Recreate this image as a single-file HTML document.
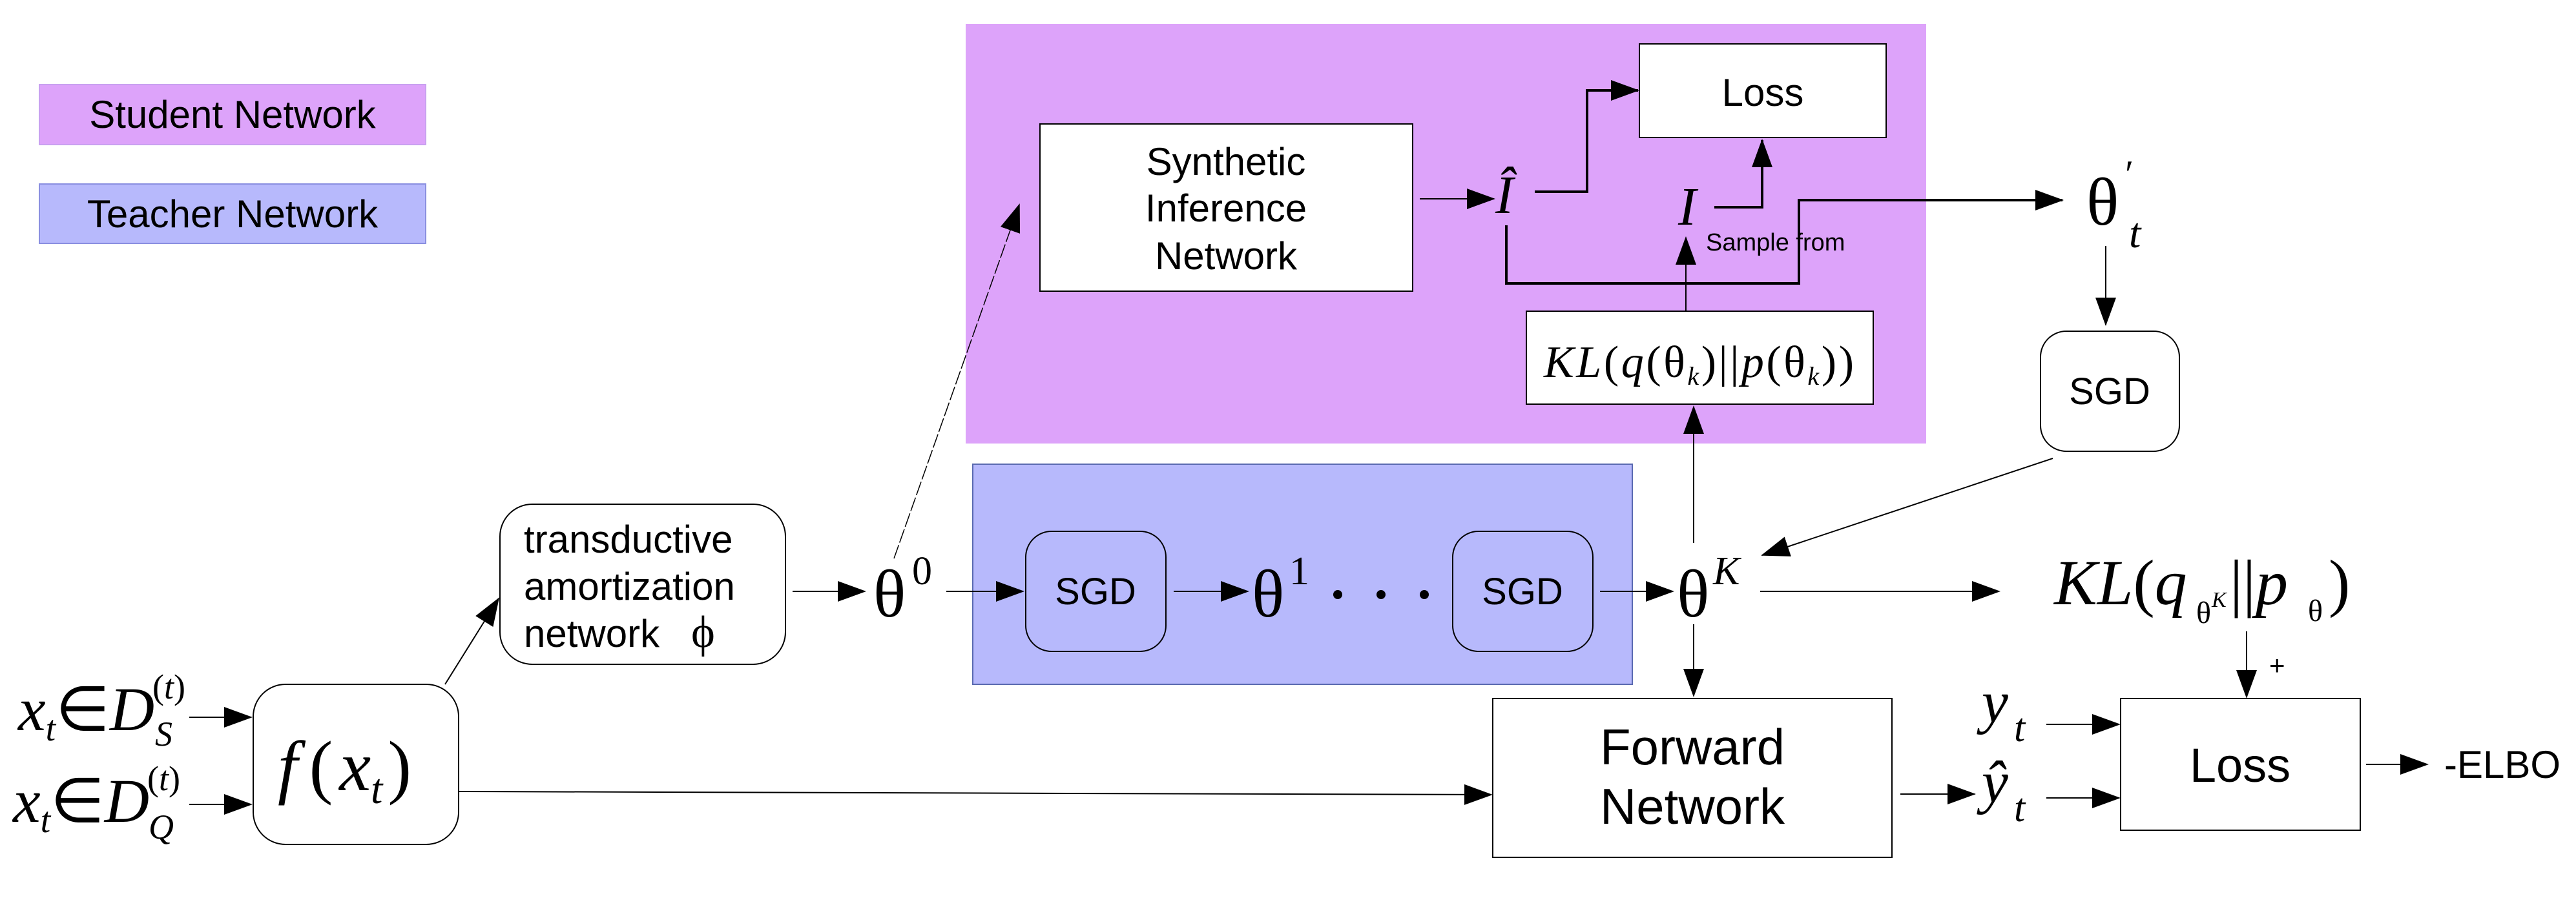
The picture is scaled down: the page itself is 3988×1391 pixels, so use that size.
<!DOCTYPE html>
<html><head><meta charset="utf-8"><style>
html,body{margin:0;padding:0;background:#fff}
svg{display:block}
.s{font-family:"Liberation Sans",sans-serif;fill:#000}
.m{font-family:"Liberation Serif",serif;font-style:italic;fill:#000}
.g{font-family:"Liberation Serif",serif;fill:#000}
</style></head><body>
<svg width="3988" height="1391" viewBox="0 0 3988 1391" xmlns="http://www.w3.org/2000/svg">
<defs>
<marker id="a" markerUnits="userSpaceOnUse" markerWidth="44" markerHeight="32" refX="42" refY="16" orient="auto">
<path d="M0,0 L44,16 L0,32 Z" fill="#000"/></marker>
</defs>
<rect x="61" y="131" width="598" height="93" fill="#dda3fa" stroke="#c9a0f0" stroke-width="2"/>
<text class="s" x="360" y="198" font-size="60" text-anchor="middle">Student Network</text>
<rect x="61" y="285" width="598" height="92" fill="#b7b9fc" stroke="#8a8fe0" stroke-width="2"/>
<text class="s" x="360" y="352" font-size="60" text-anchor="middle">Teacher Network</text>
<rect x="1495" y="37" width="1487" height="650" fill="#dda3fa"/>
<rect x="1506" y="719" width="1021" height="341" fill="#b7b9fc" stroke="#5a6ab0" stroke-width="2"/>
<rect x="1610" y="192" width="577" height="259" fill="#fff" stroke="#000" stroke-width="2"/>
<text class="s" font-size="60" text-anchor="middle"><tspan x="1898" y="271">Synthetic</tspan><tspan x="1898" y="343">Inference</tspan><tspan x="1898" y="417">Network</tspan></text>
<rect x="2538" y="68" width="382" height="145" fill="#fff" stroke="#000" stroke-width="2"/>
<text class="s" x="2729" y="164" font-size="60" text-anchor="middle">Loss</text>
<rect x="2363" y="482" width="537" height="144" fill="#fff" stroke="#000" stroke-width="2"/>
<text class="m" x="2390" y="584" font-size="70" textLength="480">KL<tspan font-style="normal">(</tspan>q<tspan font-style="normal">(θ</tspan><tspan font-size="40" dy="12">k</tspan><tspan font-style="normal" dy="-12">)||</tspan>p<tspan font-style="normal">(θ</tspan><tspan font-size="40" dy="12">k</tspan><tspan font-style="normal" dy="-12">))</tspan></text>
<rect x="3159" y="513" width="215" height="186" rx="40" fill="#fff" stroke="#000" stroke-width="2"/>
<text class="s" x="3266" y="626" font-size="58" text-anchor="middle">SGD</text>
<rect x="774" y="781" width="442" height="248" rx="50" fill="#fff" stroke="#000" stroke-width="2"/>
<text class="s" font-size="60"><tspan x="811" y="856">transductive</tspan><tspan x="811" y="929">amortization</tspan><tspan x="811" y="1002">network </tspan></text>
<text class="g" x="1070" y="1002" font-size="70">ϕ</text>
<rect x="1588" y="823" width="217" height="186" rx="40" fill="#b7b9fc" stroke="#000" stroke-width="2"/>
<text class="s" x="1696" y="936" font-size="58" text-anchor="middle">SGD</text>
<rect x="2249" y="823" width="217" height="186" rx="40" fill="#b7b9fc" stroke="#000" stroke-width="2"/>
<text class="s" x="2357" y="936" font-size="58" text-anchor="middle">SGD</text>
<rect x="392" y="1060" width="318" height="248" rx="50" fill="#fff" stroke="#000" stroke-width="2"/>
<text class="m" x="430" y="1224" font-size="110">f<tspan font-style="normal" dx="18">(</tspan><tspan dx="10">x</tspan><tspan font-size="66" dy="20">t</tspan><tspan font-style="normal" dy="-20" dx="8">)</tspan></text>
<rect x="2311" y="1082" width="618" height="246" fill="#fff" stroke="#000" stroke-width="2"/>
<text class="s" font-size="78" text-anchor="middle"><tspan x="2620" y="1184">Forward</tspan><tspan x="2620" y="1276">Network</tspan></text>
<rect x="3283" y="1082" width="371" height="204" fill="#fff" stroke="#000" stroke-width="2"/>
<text class="s" x="3468" y="1211" font-size="74" text-anchor="middle">Loss</text>
<text class="s" x="3784" y="1205" font-size="60">-ELBO</text>
<text class="m" x="28" y="1131" font-size="96">x<tspan font-size="56" dy="16">t</tspan><tspan font-style="normal" dy="-16">∈</tspan>D</text>
<text class="m" x="240" y="1155" font-size="54">S</text>
<text class="m" x="236" y="1082" font-size="54"><tspan font-style="normal">(</tspan>t<tspan font-style="normal">)</tspan></text>
<text class="m" x="20" y="1273" font-size="96">x<tspan font-size="56" dy="16">t</tspan><tspan font-style="normal" dy="-16">∈</tspan>D</text>
<text class="m" x="230" y="1299" font-size="54">Q</text>
<text class="m" x="228" y="1224" font-size="54"><tspan font-style="normal">(</tspan>t<tspan font-style="normal">)</tspan></text>
<text class="g" x="1352" y="955" font-size="105">θ</text><text class="g" x="1412" y="905" font-size="62">0</text>
<text class="g" x="1938" y="955" font-size="105">θ</text><text class="g" x="1996" y="905" font-size="62">1</text>
<circle cx="2071" cy="921" r="7"/><circle cx="2138" cy="921" r="7"/><circle cx="2205" cy="921" r="7"/>
<text class="g" x="2596" y="955" font-size="105">θ</text><text class="m" x="2652" y="905" font-size="62">K</text>
<text class="g" x="3230" y="348" font-size="105">θ</text><text class="g" x="3290" y="290" font-size="60">′</text><text class="m" x="3296" y="383" font-size="66">t</text>
<text class="m" x="2315" y="330" font-size="84">Î</text>
<text class="m" x="2598" y="348" font-size="84">I</text>
<text class="s" x="2641" y="388" font-size="38">Sample from</text>
<text class="m" x="3180" y="936" font-size="100">KL<tspan font-style="normal">(</tspan>q</text>
<text class="g" x="3400" y="965" font-size="48">θ</text><text class="m" x="3424" y="940" font-size="34">K</text>
<text class="m" x="3452" y="936" font-size="100"><tspan font-style="normal">||</tspan>p</text>
<text class="g" x="3573" y="962" font-size="48">θ</text>
<text class="g" x="3605" y="936" font-size="100">)</text>
<text class="s" x="3513" y="1045" font-size="42">+</text>
<text class="m" x="3068" y="1118" font-size="92">y</text><text class="m" x="3118" y="1148" font-size="62">t</text>
<text class="m" x="3068" y="1242" font-size="92">ŷ</text><text class="m" x="3118" y="1272" font-size="62">t</text>
<g stroke="#000" stroke-width="2" fill="none" marker-end="url(#a)">
<line x1="293" y1="1111" x2="389" y2="1111"/>
<line x1="293" y1="1246" x2="389" y2="1246"/>
<line x1="689" y1="1060" x2="772" y2="927"/>
<line x1="710" y1="1226" x2="2309" y2="1231"/>
<line x1="1227" y1="916" x2="1339" y2="916"/>
<line x1="1465" y1="916" x2="1584" y2="916"/>
<line x1="1817" y1="916" x2="1932" y2="916"/>
<line x1="1384" y1="865" x2="1578" y2="317" stroke-dasharray="22,4" stroke-width="1.5"/>
<line x1="2477" y1="916" x2="2590" y2="916"/>
<line x1="2622" y1="841" x2="2622" y2="630"/>
<line x1="2622" y1="967" x2="2622" y2="1078"/>
<line x1="2725" y1="916" x2="3095" y2="916"/>
<line x1="3178" y1="710" x2="2728" y2="860"/>
<line x1="3260" y1="381" x2="3260" y2="503"/>
<line x1="2610" y1="482" x2="2610" y2="368"/>
<line x1="2198" y1="308" x2="2313" y2="308"/>
<line x1="3478" y1="978" x2="3478" y2="1080"/>
<line x1="3168" y1="1122" x2="3281" y2="1122"/>
<line x1="3168" y1="1236" x2="3281" y2="1236"/>
<line x1="2942" y1="1230" x2="3057" y2="1230"/>
<line x1="3663" y1="1184" x2="3758" y2="1184"/>
</g>
<g stroke="#000" stroke-width="4" fill="none" marker-end="url(#a)">
<polyline points="2654,321 2728,321 2728,217"/>
<polyline points="2376,297 2457,297 2457,140 2536,140"/>
<polyline points="2332,349 2332,439 2785,439 2785,310 3193,310"/>
</g>
</svg>
</body></html>
